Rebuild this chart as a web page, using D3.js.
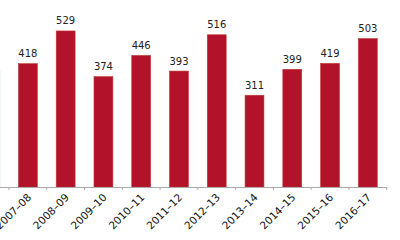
<!DOCTYPE html>
<meta charset="utf-8">
<style>
body { margin: 0; background: #fff; }
.chart { font-family: "DejaVu Sans", sans-serif; }
.bar { fill: #b3122b; stroke: #c0392f; stroke-width: 0.6; }
.value { font-size: 10px; fill: #222; text-anchor: middle; }
.tick-label { font-size: 10.5px; fill: #111; text-anchor: end; }
</style>
<svg class="chart" width="400" height="240"></svg>
<script src="https://d3js.org/d3.v7.min.js"></script>
<script>

var years = ["2007–08", "2008–09", "2009–10", "2010–11", "2011–12",
             "2012–13", "2013–14", "2014–15", "2015–16", "2016–17"];
var counts = [418, 529, 374, 446, 393, 516, 311, 399, 419, 503];

var svg = d3.select("svg"),
    baseline = 187;

var x = d3.scaleBand().domain(years).range([9, 386.7]).paddingInner(0.5).paddingOuter(0.25),
    y = d3.scaleLinear().domain([0, 600]).range([baseline, 10]);

var step = x.step();

// faint left edge from the original frame
svg.append("line")
    .attr("x1", 0.5).attr("x2", 0.5)
    .attr("y1", 70).attr("y2", baseline)
    .style("stroke", "#eef9fb");

svg.selectAll(".bar")
    .data(years)
    .enter().append("rect")
    .attr("class", "bar")
    .attr("x", function(d) { return x(d); })
    .attr("y", function(d, i) { return y(counts[i]); })
    .attr("width", x.bandwidth())
    .attr("height", function(d, i) { return baseline - y(counts[i]); });

svg.selectAll(".value")
    .data(years)
    .enter().append("text")
    .attr("class", "value")
    .attr("x", function(d) { return x(d) + x.bandwidth() / 2; })
    .attr("y", function(d, i) { return y(counts[i]) - 6.5; })
    .text(function(d, i) { return counts[i]; });

// axis line and ticks at category boundaries
var axis = svg.append("g");
axis.append("line")
    .attr("x1", 0).attr("x2", 386.7)
    .attr("y1", baseline + 0.5).attr("y2", baseline + 0.5)
    .style("stroke", "#a9a9a9");

var bounds = years.map(function(d) { return x(d) - step * 0.25; }).concat([386.7]);
axis.selectAll(".tk")
    .data(bounds)
    .enter().append("line")
    .attr("x1", function(d) { return d; }).attr("x2", function(d) { return d; })
    .attr("y1", baseline).attr("y2", baseline + 3)
    .style("stroke", "#a9a9a9");

axis.selectAll(".tick-label")
    .data(years)
    .enter().append("text")
    .attr("class", "tick-label")
    .attr("transform", function(d) {
        return "translate(" + (x(d) + x.bandwidth() / 2 + 4) + "," + (baseline + 11) + ") rotate(-45)";
    })
    .text(function(d) { return d; });

</script>
